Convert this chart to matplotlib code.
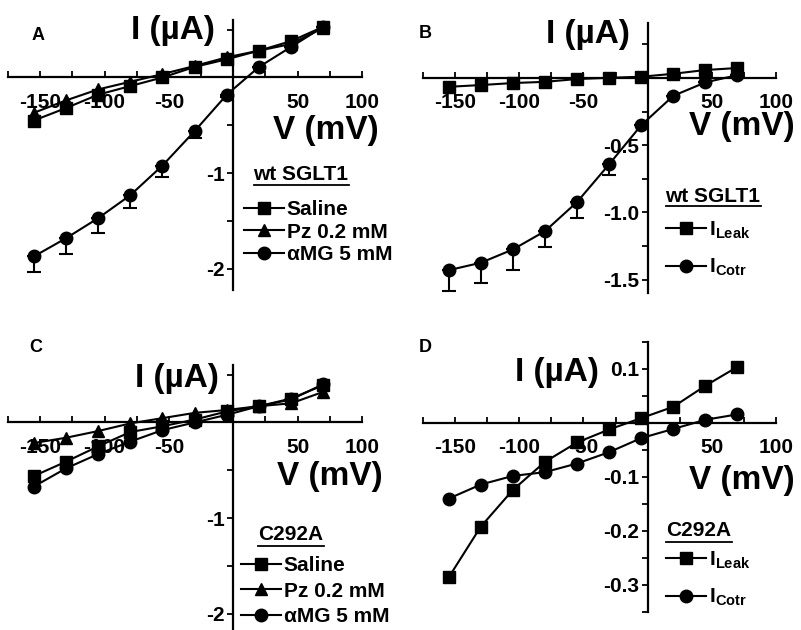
import matplotlib
matplotlib.use('Agg')
import matplotlib.pyplot as plt
from matplotlib.lines import Line2D
from matplotlib.ticker import FixedLocator, FixedFormatter, MultipleLocator

plt.rcParams['font.family'] = ['Liberation Sans', 'DejaVu Sans']
plt.rcParams['font.weight'] = 'bold'
plt.rcParams['axes.unicode_minus'] = False
plt.rcParams['mathtext.fontset'] = 'custom'
plt.rcParams['mathtext.rm'] = 'Liberation Sans:bold'
plt.rcParams['mathtext.bf'] = 'Liberation Sans:bold'

# membrane potential steps (mV)
V = [-155, -130, -105, -80, -55, -30, -5, 20, 45, 70]

# A: wt SGLT1 (uA)
a_saline = [-0.45, -0.32, -0.18, -0.09, 0.0, 0.11, 0.19, 0.28, 0.38, 0.53]
a_pz = [-0.37, -0.24, -0.125, -0.045, 0.035, 0.12, 0.21, 0.28, 0.35, 0.52]
a_amg = [-1.87, -1.68, -1.47, -1.23, -0.92, -0.56, -0.18, 0.11, 0.32, 0.53]
a_amg_err = [0.16, 0.16, 0.155, 0.135, 0.115, 0.07, 0.02, 0.0, 0.0, 0.0]

# B: wt SGLT1 leak / cotransport currents (uA)
b_leak = [-0.065, -0.052, -0.037, -0.028, -0.007, 0.002, 0.01, 0.032, 0.06, 0.075]
b_cotr = [-1.43, -1.375, -1.276, -1.14, -0.923, -0.642, -0.351, -0.132, -0.032, 0.022]
b_cotr_err = [0.157, 0.15, 0.15, 0.12, 0.115, 0.08, 0.0, 0.0, 0.0, 0.0]

# C: C292A (uA)
c_saline = [-0.56, -0.41, -0.25, -0.10, -0.04, 0.03, 0.115, 0.17, 0.25, 0.39]
c_pz = [-0.215, -0.16, -0.09, -0.01, 0.045, 0.10, 0.13, 0.17, 0.20, 0.32]
c_amg = [-0.67, -0.48, -0.33, -0.20, -0.08, 0.0, 0.08, 0.17, 0.24, 0.40]

# D: C292A leak / cotransport currents (uA)
d_leak = [-0.286, -0.192, -0.124, -0.072, -0.036, -0.012, 0.009, 0.030, 0.069, 0.104]
d_cotr = [-0.14, -0.114, -0.098, -0.091, -0.075, -0.054, -0.028, -0.011, 0.006, 0.016]

W, H = 801, 630
fig = plt.figure(figsize=(W / 100, H / 100), dpi=100)


def px_axes(x0, x1, y0, y1):
    return fig.add_axes([x0 / W, 1 - y1 / H, (x1 - x0) / W, (y1 - y0) / H])


def style(ax, ylim, ymaj, ylabels, ymin):
    ax.set_xlim(-175, 100)
    ax.set_ylim(ylim)
    ax.patch.set_visible(False)
    ax.spines['top'].set_visible(False)
    ax.spines['right'].set_visible(False)
    for s in ['left', 'bottom']:
        ax.spines[s].set_position(('data', 0))
        ax.spines[s].set_linewidth(1.6)
        ax.spines[s].set_zorder(1)
    ax.xaxis.set_major_locator(FixedLocator([-150, -100, -50, 50, 100]))
    ax.xaxis.set_major_formatter(FixedFormatter(['-150', '-100', '-50', '50', '100']))
    ax.xaxis.set_minor_locator(MultipleLocator(25))
    ax.yaxis.set_major_locator(FixedLocator(ymaj))
    ax.yaxis.set_major_formatter(FixedFormatter(ylabels))
    ax.yaxis.set_minor_locator(MultipleLocator(ymin))
    ax.tick_params(axis='x', which='both', direction='in', length=4, width=1.3,
                   pad=11, labelsize=15)
    ax.tick_params(axis='y', which='both', direction='out', length=4, width=1.3,
                   pad=2, labelsize=15)


def ftext(x, y, s, size, **kw):
    return fig.text(x / W, 1 - y / H, s, fontsize=size, fontweight='bold',
                    ha='center', va='center', **kw)


def title_underlined(x, y, s):
    t = ftext(x, y, s, 15)
    r = fig.canvas.get_renderer()
    bb = t.get_window_extent(r)
    yl = bb.y0 - 1
    fig.add_artist(Line2D([bb.x0 / W, bb.x1 / W], [yl / H, yl / H],
                          transform=fig.transFigure, color='black', lw=1.3))


line_kw = dict(color='black', lw=1.5, ms=9, zorder=3, clip_on=False)
err_kw = dict(fmt='none', ecolor='black', elinewidth=1.5, capsize=5,
              capthick=1.5, zorder=3, clip_on=False)
leg_kw = dict(frameon=False, fontsize=15, handlelength=1.9, handletextpad=0.15,
              borderpad=0, borderaxespad=0, bbox_transform=fig.transFigure,
              loc='upper left')

# ---- panel A ----
ax = px_axes(8, 362, 20, 290)
style(ax, (-2.22, 0.6), [-1, -2], ['-1', '-2'], 0.5)
h1, = ax.plot(V, a_saline, marker='s', label='Saline', **line_kw)
h2, = ax.plot(V, a_pz, marker='^', label='Pz 0.2 mM', **line_kw)
ax.errorbar(V, a_amg, yerr=[a_amg_err, [0] * len(V)], **err_kw)
h3, = ax.plot(V, a_amg, marker='o', label='αMG 5 mM', **line_kw)
ax.legend(handles=[h1, h2, h3], bbox_to_anchor=(244 / W, 1 - 200 / H),
          labelspacing=0.18, **leg_kw)

# ---- panel B ----
ax = px_axes(423, 776, 23, 293)
style(ax, (-1.6, 0.41), [-0.5, -1.0, -1.5], ['-0.5', '-1.0', '-1.5'], 0.25)
h1, = ax.plot(V, b_leak, marker='s', label=r'I$_{\mathbf{Leak}}$', **line_kw)
ax.errorbar(V, b_cotr, yerr=[b_cotr_err, [0] * len(V)], **err_kw)
h2, = ax.plot(V, b_cotr, marker='o', label=r'I$_{\mathbf{Cotr}}$', **line_kw)
ax.legend(handles=[h1, h2], bbox_to_anchor=(666 / W, 1 - 219 / H),
          labelspacing=0.78, **leg_kw)

# ---- panel C ----
ax = px_axes(8, 362, 365, 635)
style(ax, (-2.22, 0.6), [-1, -2], ['-1', '-2'], 0.5)
h1, = ax.plot(V, c_saline, marker='s', label='Saline', **line_kw)
h2, = ax.plot(V, c_pz, marker='^', label='Pz 0.2 mM', **line_kw)
h3, = ax.plot(V, c_amg, marker='o', label='αMG 5 mM', **line_kw)
ax.legend(handles=[h1, h2, h3], bbox_to_anchor=(241 / W, 1 - 556 / H),
          labelspacing=0.32, **leg_kw)

# ---- panel D ----
ax = px_axes(423, 776, 342, 612)
style(ax, (-0.35, 0.15), [0.1, -0.1, -0.2, -0.3], ['0.1', '-0.1', '-0.2', '-0.3'], 0.05)
h1, = ax.plot(V, d_leak, marker='s', label=r'I$_{\mathbf{Leak}}$', **line_kw)
h2, = ax.plot(V, d_cotr, marker='o', label=r'I$_{\mathbf{Cotr}}$', **line_kw)
ax.legend(handles=[h1, h2], bbox_to_anchor=(666 / W, 1 - 549 / H),
          labelspacing=0.78, **leg_kw)

# panel letters, axis titles and legend headers
for (lx, ly, s) in [(38, 35, 'A'), (425, 34, 'B'), (36, 348, 'C'), (425, 348, 'D')]:
    ftext(lx, ly, s, 13)
for (x, y) in [(173, 31), (588, 34), (177, 379), (557, 373)]:
    ftext(x, y, 'I (µA)', 24)
for (x, y) in [(326, 131), (742, 126), (330, 477), (742, 481)]:
    ftext(x, y, 'V (mV)', 24)
title_underlined(301, 175, 'wt SGLT1')
title_underlined(713, 196, 'wt SGLT1')
title_underlined(291, 535, 'C292A')
title_underlined(699, 531, 'C292A')

fig.savefig('out.png', dpi=100)
